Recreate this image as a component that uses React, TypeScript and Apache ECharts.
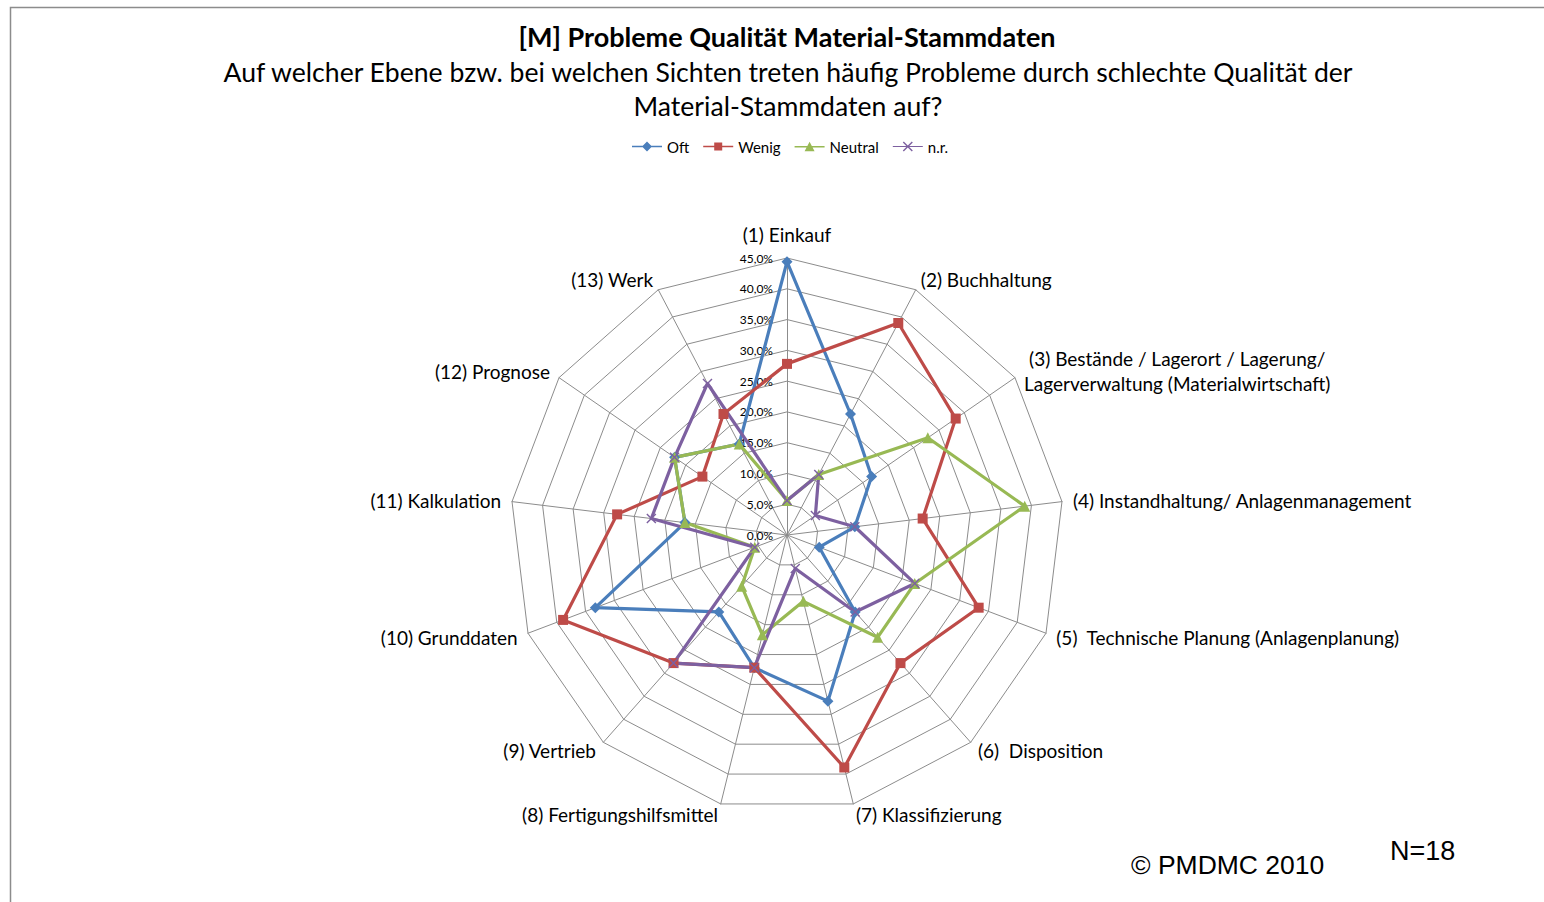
import React, { useEffect, useRef } from "react";
import * as echarts from "echarts";

const categories = [
  "(1) Einkauf",
  "(2) Buchhaltung",
  "(3) Bestände / Lagerort / Lagerung/\nLagerverwaltung (Materialwirtschaft)",
  "(4) Instandhaltung/ Anlagenmanagement",
  "(5)  Technische Planung (Anlagenplanung)",
  "(6)  Disposition",
  "(7) Klassifizierung",
  "(8) Fertigungshilfsmittel",
  "(9) Vertrieb",
  "(10) Grunddaten",
  "(11) Kalkulation",
  "(12) Prognose",
  "(13) Werk",
];

const oft = [44.4, 22.2, 16.7, 11.1, 5.6, 16.7, 27.8, 22.2, 16.7, 33.3, 16.7, 22.2, 16.7];
const wenig = [27.8, 38.9, 33.3, 22.2, 33.3, 27.8, 38.9, 22.2, 27.8, 38.9, 27.8, 16.7, 22.2];
const neutral = [5.6, 11.1, 27.8, 38.9, 22.2, 22.2, 11.1, 16.7, 11.1, 5.6, 16.7, 22.2, 16.7];
const nr = [5.6, 11.1, 5.6, 11.1, 22.2, 16.7, 5.6, 22.2, 27.8, 5.6, 22.2, 22.2, 27.8];

const seriesNames = ["Oft", "Wenig", "Neutral", "n.r."];
const axisMax = 45;
const axisSplits = 9;

const title = "[M] Probleme Qualität Material-Stammdaten";
const subtitleLines = [
  "Auf welcher Ebene bzw. bei welchen Sichten treten häufig Probleme durch schlechte Qualität der",
  "Material-Stammdaten auf?",
];
const copyright = "© PMDMC 2010";
const sampleNote = "N=18";

const COLORS = ["#4a7ebb", "#be4b48", "#98b954", "#7d60a0"];
const X_PATH = "path://M0,1L1,0L5,4L9,0L10,1L6,5L10,9L9,10L5,6L1,10L0,9L4,5Z";
const SYMBOLS = ["diamond", "rect", "triangle", X_PATH];
const SYMBOL_SIZES = [11, 10, 11, 10];
const LEGEND_ICONS = [
  "path://M0,4.3H30V5.7H0Z M15,0L20,5L15,10L10,5Z",
  "path://M0,4.3H30V5.7H0Z M11,1H19V9H11Z",
  "path://M0,4.3H30V5.7H0Z M15,0L20,9.5H10Z",
  "path://M0,4.4H30V5.6H0Z M10,1L11,0L15,4L19,0L20,1L16,5L20,9L19,10L15,6L11,10L10,9L14,5Z",
];

const FONT = "Lato, 'Open Sans', sans-serif";

export default function App() {
  const ref = useRef<HTMLDivElement>(null);

  useEffect(() => {
    document.body.style.margin = "0";
    document.body.style.overflow = "hidden";
    if (!ref.current) return;
    const chart = echarts.init(ref.current, undefined, { renderer: "svg" });

    // ECharts radar runs counter-clockwise; reorder so categories go clockwise
    const n = categories.length;
    const order = [0];
    for (let i = n - 1; i >= 1; i--) order.push(i);

    const allValues = [oft, wenig, neutral, nr];

    const indicator = order.map((i, k) => {
      const ind: any = { name: categories[i], min: 0, max: axisMax };
      if (k === 0) ind.axisLabel = { show: true };
      return ind;
    });

    const subStyle = {
      fontFamily: FONT,
      fontSize: 26.6,
      fontWeight: "normal",
      color: "#000",
      lineHeight: 34,
    };

    const option: any = {
      animation: false,
      backgroundColor: "#ffffff",
      title: [
        {
          text: title,
          left: 782,
          textAlign: "center",
          top: 15,
          textStyle: {
            fontFamily: FONT,
            fontSize: 27,
            fontWeight: "bold",
            color: "#000",
            lineHeight: 32,
          },
        },
        { text: subtitleLines[0], left: 783, textAlign: "center", top: 50, textStyle: subStyle },
        { text: subtitleLines[1], left: 783, textAlign: "center", top: 84, textStyle: subStyle },
      ],
      legend: {
        top: 134,
        left: 627,
        itemWidth: 30,
        itemHeight: 10,
        itemGap: 14,
        textStyle: { fontFamily: FONT, fontSize: 15, color: "#000" },
        data: seriesNames.map((name, i) => ({ name, icon: LEGEND_ICONS[i] })),
      },
      radar: {
        center: [787, 535],
        radius: 277,
        startAngle: 90,
        shape: "polygon",
        splitNumber: axisSplits,
        nameGap: 11,
        axisName: {
          color: "#000",
          fontFamily: FONT,
          fontSize: 19,
          lineHeight: 25,
          formatter: (name: string) =>
            name.includes("\n")
              ? name
                  .split("\n")
                  .map((l) => "{c|" + l + "}")
                  .join("\n")
              : name,
          rich: {
            c: {
              align: "center",
              fontFamily: FONT,
              fontSize: 19,
              lineHeight: 25,
              color: "#000",
            },
          },
        },
        axisLine: { lineStyle: { color: "#8c8c8c", width: 1 } },
        splitLine: { lineStyle: { color: "#8c8c8c", width: 1 } },
        splitArea: { show: false },
        axisTick: { show: false },
        axisLabel: {
          show: false,
          color: "#000",
          fontFamily: FONT,
          fontSize: 12,
          margin: 14,
          formatter: (v: number) => v.toFixed(1).replace(".", ",") + "%",
        },
        indicator,
      },
      series: [
        {
          type: "radar",
          name: "Probleme",
          data: seriesNames.map((name, s) => ({
            name,
            value: order.map((i) => allValues[s][i]),
            symbol: SYMBOLS[s],
            symbolSize: SYMBOL_SIZES[s],
            lineStyle: { color: COLORS[s], width: 3.2 },
            itemStyle: { color: COLORS[s] },
          })),
        },
      ],
      graphic: [
        {
          type: "rect",
          shape: { x: 10.5, y: 7.5, width: 1700, height: 1000 },
          style: { fill: "none", stroke: "#8c8c8c", lineWidth: 1.5 },
          silent: true,
          z: -1,
        },
        {
          type: "text",
          x: 1131,
          y: 865,
          style: {
            text: copyright,
            fontFamily: "'Liberation Sans', Arial, sans-serif",
            fontSize: 26.5,
            fill: "#000",
            verticalAlign: "middle",
            textVerticalAlign: "middle",
          },
        },
        {
          type: "text",
          x: 1390,
          y: 851,
          style: {
            text: sampleNote,
            fontFamily: "'Liberation Sans', Arial, sans-serif",
            fontSize: 27,
            fill: "#000",
            verticalAlign: "middle",
            textVerticalAlign: "middle",
          },
        },
      ],
    };

    chart.setOption(option);
    return () => chart.dispose();
  }, []);

  return <div ref={ref} style={{ width: 1544, height: 902 }} />;
}
